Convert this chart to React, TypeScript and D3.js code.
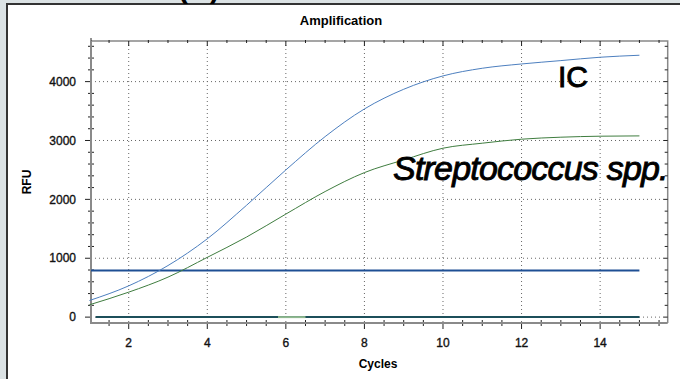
import React, { useEffect, useRef } from 'react';
import * as d3 from 'd3';

// cycle numbers
const cycles = [1, 2, 3, 4, 5, 6, 7, 8, 9, 10, 11, 12, 13, 14, 15];
// internal control (blue)
const icValues = [282, 531, 876, 1330, 1900, 2500, 3066, 3536, 3870, 4097, 4227, 4300, 4357, 4414, 4448];
// Streptococcus spp. (green)
const strepValues = [209, 424, 679, 1015, 1360, 1750, 2133, 2455, 2670, 2869, 2954, 3022, 3056, 3073, 3078];
const threshold = 790;
const xTicks = [2, 4, 6, 8, 10, 12, 14];
const yTicks = [0, 1000, 2000, 3000, 4000];

const W = 680;
const H = 379;

const App = () => {
  const svgRef = useRef<SVGSVGElement>(null);

  useEffect(() => {
    const svg = d3.select(svgRef.current);
    svg.selectAll('*').remove();

    const left = 91, right = 667.7, top = 41, bottom = 323;
    const x = d3.scaleLinear().domain([1.04, 15.72]).range([left, right]);
    const y = d3.scaleLinear().domain([-100, 4690]).range([bottom, top]);
    const font = 'Liberation Sans, Arial, sans-serif';

    // page background + white panel
    svg.append('rect').attr('width', W).attr('height', H).attr('fill', '#dbe2e4');
    svg.append('rect').attr('x', 7).attr('y', 4).attr('width', W).attr('height', H).attr('fill', 'white');
    svg.append('path').attr('d', `M7,${H} V4 H${W}`).attr('fill', 'none').attr('stroke', '#333').attr('stroke-width', 2);

    // heading clipped at the top edge of the picture
    svg.append('text').attr('x', 178).attr('y', -2).attr('font-family', font).attr('font-weight', 'bold')
      .attr('font-size', 30).attr('fill', 'black').text('(B)');
    svg.append('text').attr('x', 568).attr('y', -2).attr('font-family', font).attr('font-weight', 'bold')
      .attr('font-size', 30).attr('fill', 'black').text('o');

    // title
    svg.append('text').attr('x', 341).attr('y', 25).attr('text-anchor', 'middle')
      .attr('font-family', font).attr('font-weight', 'bold').attr('font-size', 13).text('Amplification');

    // grid
    const grid = svg.append('g').attr('stroke', '#666').attr('stroke-width', 1).attr('stroke-dasharray', '1,3');
    xTicks.forEach(t => {
      grid.append('line').attr('x1', x(t)).attr('x2', x(t)).attr('y1', top).attr('y2', bottom);
    });
    yTicks.forEach(t => {
      grid.append('line').attr('x1', left).attr('x2', right).attr('y1', y(t)).attr('y2', y(t));
    });

    // frame (top + right light)
    svg.append('path').attr('d', `M${left},${top} H${right} V${bottom}`)
      .attr('fill', 'none').attr('stroke', '#888').attr('stroke-width', 1.5);

    // minor ticks
    const yMinor = d3.range(0, 4700, 200);
    const xMinor = d3.range(1.5, 15.7, 0.5);
    const ticks = svg.append('g').attr('stroke', '#222').attr('stroke-width', 1);
    yMinor.forEach(v => {
      const yy = y(v);
      if (yTicks.includes(v)) return;
      ticks.append('line').attr('x1', left - 3).attr('x2', left + 3).attr('y1', yy).attr('y2', yy);
      ticks.append('line').attr('x1', right - 3).attr('x2', right).attr('y1', yy).attr('y2', yy);
    });
    yTicks.forEach(v => {
      ticks.append('line').attr('x1', left - 6).attr('x2', left).attr('y1', y(v)).attr('y2', y(v));
      ticks.append('line').attr('x1', right - 4).attr('x2', right).attr('y1', y(v)).attr('y2', y(v));
    });
    xMinor.forEach(v => {
      const xx = x(v);
      if (xTicks.includes(v)) return;
      ticks.append('line').attr('x1', xx).attr('x2', xx).attr('y1', bottom - 3).attr('y2', bottom + 3);
      ticks.append('line').attr('x1', xx).attr('x2', xx).attr('y1', top - 1).attr('y2', top + 2);
    });
    xTicks.forEach(v => {
      ticks.append('line').attr('x1', x(v)).attr('x2', x(v)).attr('y1', bottom).attr('y2', bottom + 6);
      ticks.append('line').attr('x1', x(v)).attr('x2', x(v)).attr('y1', top).attr('y2', top + 5);
    });
    ticks.append('line').attr('x1', left).attr('x2', left).attr('y1', top - 3).attr('y2', top + 3);

    // left + bottom axis lines
    svg.append('path').attr('d', `M${left},${top} V${bottom} H${right}`)
      .attr('fill', 'none').attr('stroke', '#8a8a8a').attr('stroke-width', 2);

    // tick labels
    svg.append('g').selectAll('text').data(xTicks).enter().append('text')
      .attr('x', d => x(d)).attr('y', bottom + 24).attr('text-anchor', 'middle')
      .attr('font-family', font).attr('font-size', 12).attr('fill', '#111')
      .attr('stroke', '#111').attr('stroke-width', 0.35).text(d => d);
    svg.append('g').selectAll('text').data(yTicks).enter().append('text')
      .attr('x', left - 15).attr('y', d => y(d)).attr('dy', '0.35em').attr('text-anchor', 'end')
      .attr('font-family', font).attr('font-size', 12).attr('fill', '#111')
      .attr('stroke', '#111').attr('stroke-width', 0.35).text(d => d);

    // axis titles
    svg.append('text').attr('transform', `translate(31,${(top + bottom) / 2}) rotate(-90)`)
      .attr('text-anchor', 'middle').attr('font-family', font).attr('font-weight', 'bold')
      .attr('font-size', 12).text('RFU');
    svg.append('text').attr('x', 378).attr('y', 368).attr('text-anchor', 'middle')
      .attr('font-family', font).attr('font-weight', 'bold').attr('font-size', 12).text('Cycles');

    // baseline + threshold
    svg.append('line').attr('x1', x(1.16)).attr('x2', x(15)).attr('y1', y(0)).attr('y2', y(0))
      .attr('stroke', '#1c4f5a').attr('stroke-width', 2);
    svg.append('line').attr('x1', x(5.8)).attr('x2', x(6.5)).attr('y1', y(0)).attr('y2', y(0))
      .attr('stroke', '#8fb88f').attr('stroke-width', 2);
    svg.append('line').attr('x1', left).attr('x2', x(15)).attr('y1', y(threshold)).attr('y2', y(threshold))
      .attr('stroke', '#1e4f94').attr('stroke-width', 2);

    // curves
    const line = d3.line<number>().x((_, i) => x(cycles[i])).y(d => y(d)).curve(d3.curveMonotoneX);
    svg.append('path').attr('d', line(strepValues)).attr('fill', 'none')
      .attr('stroke', '#3f7d3f').attr('stroke-width', 1);
    svg.append('path').attr('d', line(icValues)).attr('fill', 'none')
      .attr('stroke', '#4d7fbf').attr('stroke-width', 1);

    // annotations
    svg.append('text').attr('x', 558).attr('y', 87).attr('font-family', font)
      .attr('font-size', 30).attr('fill', 'black').attr('stroke', 'black').attr('stroke-width', 0.9)
      .text('IC');
    svg.append('text').attr('x', 393).attr('y', 180).attr('font-family', font)
      .attr('font-style', 'italic').attr('font-size', 34).attr('letter-spacing', -0.8)
      .attr('fill', 'black').attr('stroke', 'black').attr('stroke-width', 0.9)
      .text('Streptococcus spp.');
  }, []);

  return (
    <svg ref={svgRef} width={W} height={H} style={{ position: 'absolute', left: 0, top: 0 }} />
  );
};

export default App;
